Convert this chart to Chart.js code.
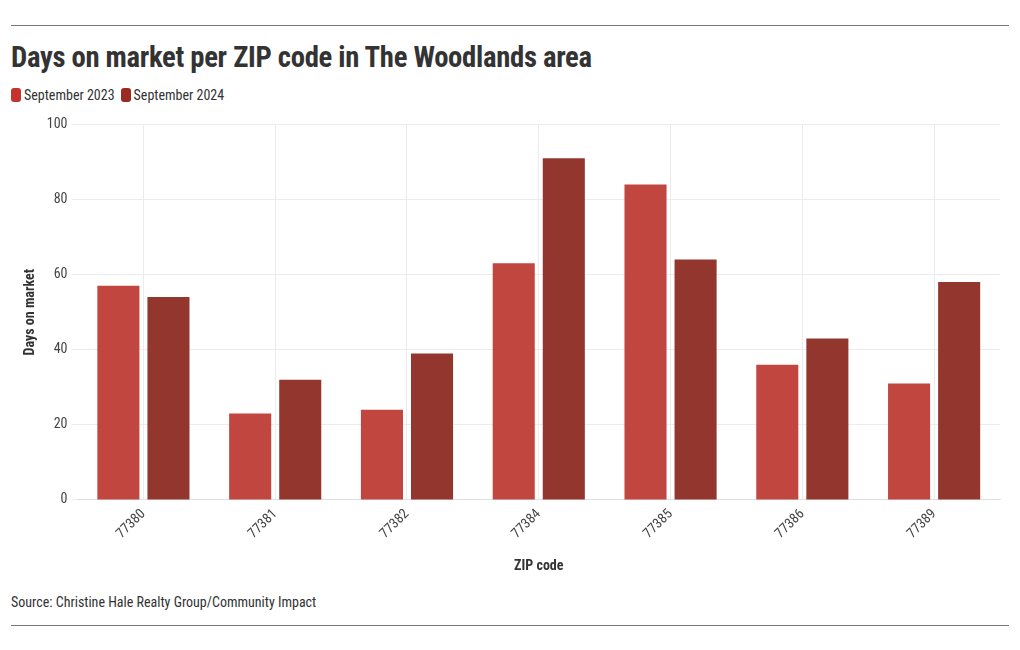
<!DOCTYPE html>
<html>
<head>
<meta charset="utf-8">
<script src="https://cdn.jsdelivr.net/npm/chart.js@4"></script>
<style>
  body { margin: 0; background: #fff; font-family: "Roboto Condensed", "Liberation Sans Narrow", "DejaVu Sans Condensed", Roboto, sans-serif; color: #333; }
  .wrap { position: relative; width: 1020px; height: 650px; }
  .rule { position: absolute; left: 11px; width: 998px; height: 1px; background: #777; }
  h1 { position: absolute; left: 11px; top: 40px; margin: 0; font-size: 28.7px; font-weight: 700; color: #333; letter-spacing: -0.3px; }
  .legend { position: absolute; left: 11px; top: 87px; font-size: 14px; color: #333; display: flex; gap: 6px; }
  .legend span { display: flex; align-items: center; }
  .legend i { display: inline-block; width: 10px; height: 14px; border-radius: 3px; margin-right: 3px; }
  .source { position: absolute; left: 11px; top: 594px; font-size: 14px; color: #333; }
  #box { position: absolute; left: 11px; top: 112px; width: 998px; height: 475px; }
</style>
</head>
<body>
<div class="wrap">
  <div class="rule" style="top:25px"></div>
  <h1>Days on market per ZIP code in The Woodlands area</h1>
  <div class="legend">
    <span><i style="background:#c4342d"></i>September 2023</span>
    <span><i style="background:#9a2a22"></i>September 2024</span>
  </div>
  <div id="box"><canvas id="chart"></canvas></div>
  <div class="source">Source: Christine Hale Realty Group/Community Impact</div>
  <div class="rule" style="top:625px"></div>
</div>
<script>
// Data
const zipCodes = ["77380", "77381", "77382", "77384", "77385", "77386", "77389"];
const sept2023 = [57, 23, 24, 63, 84, 36, 31];
const sept2024 = [54, 32, 39, 91, 64, 43, 58];
const yTicks = [0, 20, 40, 60, 80, 100];

const fontFamily = '"Roboto Condensed", "Liberation Sans Narrow", "DejaVu Sans Condensed", Roboto, sans-serif';

const ctx = document.getElementById("chart").getContext("2d");

let chart = new Chart(ctx, {
    type: 'bar',
    data: {
        labels: zipCodes,
        datasets: [{
            label: 'September 2023',
            data: sept2023,
            backgroundColor: '#c1463f',
            categoryPercentage: 0.76,
            barPercentage: 0.84
        }, {
            label: 'September 2024',
            data: sept2024,
            backgroundColor: '#93372e',
            categoryPercentage: 0.76,
            barPercentage: 0.84
        }]
    },
    options: {
        responsive: true,
        maintainAspectRatio: false,
        animation: false,
        layout: { padding: { top: 4, right: 9, bottom: 8, left: 7 } },
        plugins: {
            legend: { display: false },
            tooltip: { enabled: false }
        },
        scales: {
            x: {
                grid: { offset: false, color: '#ececec', tickLength: 0 },
                border: { color: '#e0e0e0' },
                ticks: {
                    color: '#444',
                    font: { family: fontFamily, size: 14 },
                    maxRotation: 45,
                    minRotation: 45,
                    padding: 6
                },
                title: {
                    display: true,
                    text: 'ZIP code',
                    color: '#333',
                    font: { family: fontFamily, size: 14, weight: 'bold' },
                    padding: { top: 10 }
                }
            },
            y: {
                min: 0,
                max: 100,
                afterBuildTicks: axis => { axis.ticks = yTicks.map(v => ({ value: v })); },
                grid: { color: '#ececec', tickLength: 6 },
                border: { display: false },
                ticks: {
                    color: '#444',
                    font: { family: fontFamily, size: 14 },
                    padding: 4
                },
                title: {
                    display: true,
                    text: 'Days on market',
                    color: '#333',
                    font: { family: fontFamily, size: 14, weight: 'bold' },
                    padding: { bottom: 4 }
                }
            }
        }
    }
});
</script>
</body>
</html>
